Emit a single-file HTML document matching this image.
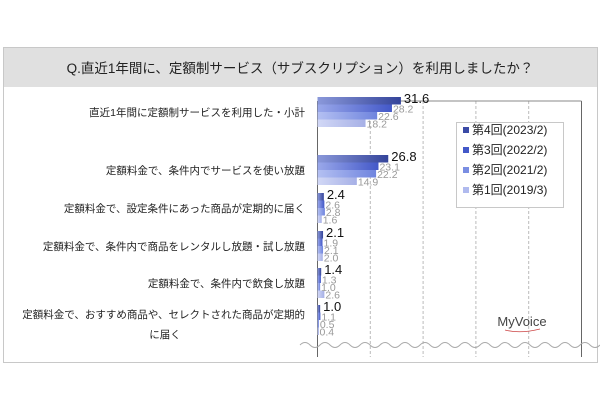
<!DOCTYPE html>
<html><head><meta charset="utf-8">
<style>
body{margin:0;background:#fff;width:600px;height:400px;overflow:hidden;font-family:"Liberation Sans","Noto Sans CJK JP",sans-serif;}
svg text{font-family:"Liberation Sans","Noto Sans CJK JP",sans-serif;}
</style></head>
<body>
<svg id="chart" width="600" height="400" viewBox="0 0 600 400" xmlns="http://www.w3.org/2000/svg">
<defs>
<linearGradient id="g0" x1="0" x2="1"><stop offset="0" stop-color="#8a98da"/><stop offset="1" stop-color="#34449a"/></linearGradient>
<linearGradient id="g1" x1="0" x2="1"><stop offset="0" stop-color="#9aa8ea"/><stop offset="1" stop-color="#4358c8"/></linearGradient>
<linearGradient id="g2" x1="0" x2="1"><stop offset="0" stop-color="#b4c0f2"/><stop offset="1" stop-color="#6f84de"/></linearGradient>
<linearGradient id="g3" x1="0" x2="1"><stop offset="0" stop-color="#d2d8f6"/><stop offset="1" stop-color="#a6b0e6"/></linearGradient>
</defs>
<rect x="3.5" y="47.5" width="594" height="315" fill="#fff" stroke="#c8c8c8"/>
<rect x="4" y="48" width="593" height="39" fill="#e0e0e0"/>
<text x="300" y="73" font-size="13.5" text-anchor="middle" fill="#222">Q.直近1年間に、定額制サービス（サブスクリプション）を利用しましたか？</text>
<g id="grid"></g>
<g id="bars"></g>
<g id="labels"></g>
<path d="" id="wave" fill="none" stroke="#aaa" stroke-width="1"/>
<g>
<rect x="456.5" y="122.5" width="107" height="85" fill="#fff" stroke="#c8c8c8"/>
<g id="legend"></g>
</g>
<text x="522" y="326" font-size="13" text-anchor="middle" fill="#444" font-family="Liberation Serif,serif">MyVoice</text>
<path d="M505 330 Q520 334 540 329" stroke="#c44" stroke-width="0.8" fill="none"/>
</svg>
<script>
const categories=["直近1年間に定額制サービスを利用した・小計","定額料金で、条件内でサービスを使い放題","定額料金で、設定条件にあった商品が定期的に届く","定額料金で、条件内で商品をレンタルし放題・試し放題","定額料金で、条件内で飲食し放題","定額料金で、おすすめ商品や、セレクトされた商品が定期的|に届く"];
const series=["第4回(2023/2)","第3回(2022/2)","第2回(2021/2)","第1回(2019/3)"];
const s4=[31.6,26.8,2.4,2.1,1.4,1.0];
const s3=[28.2,23.1,2.6,1.9,1.3,1.1];
const s2=[22.6,22.2,2.8,2.1,1.0,0.5];
const s1=[18.2,14.9,1.6,2.0,2.6,0.4];
const ticks=[0,20,40,60,80,100];
const NS="http://www.w3.org/2000/svg";
const x0=317.5,x1=581.5;
const xs=v=>x0+(x1-x0)*v/100;
const groupTop=[97,155,193,231,268,305];
const barH=7.5;
function mk(tag,attrs,parent){const e=document.createElementNS(NS,tag);for(const k in attrs)e.setAttribute(k,attrs[k]);parent.appendChild(e);return e;}
const grid=document.getElementById('grid');
ticks.forEach((t,i)=>{
 const l=mk('line',{x1:xs(t),x2:xs(t),y1:101,y2:357,stroke:(i==0||i==ticks.length-1)?'#666':'#bbb','stroke-dasharray':(i==0||i==ticks.length-1)?'':'3,2'},grid);
 
 
});
const tl=mk('line',{x1:x0,x2:x1,y1:101,y2:101,stroke:'#888'},grid);


let d="M300 345";
for(let x=300;x<598;x+=20){d+=` Q${x+5} 340 ${x+10} 345 Q${x+15} 350 ${x+20} 345`;}
document.getElementById('wave').setAttribute('d',d);
const bars=document.getElementById('bars'),labels=document.getElementById('labels');
const all=[s4,s3,s2,s1];
categories.forEach((c,i)=>{
 const top=groupTop[i];
 const parts=c.split('|');
 const cy=top+15;
 parts.forEach((p,j)=>{
  const t=mk('text',{x:parts.length>1?(j==0?305:165):305,y:(parts.length>1?cy-2+j*20:cy+4),'font-size':'10.5','text-anchor':parts.length>1&&j==1?'middle':'end',fill:'#222'},labels);
  t.textContent=p;
  
  
 });
 all.forEach((s,k)=>{
  const y=top+k*barH;
  const r=mk('rect',{x:x0,y:y,width:Math.max(xs(s[i])-x0,1.5),height:barH,fill:`url(#g${k})`},bars);
  
  
  const t=mk('text',{x:xs(s[i])+(k==0?3:1),y:k==0?y+6:y+8,'font-size':k==0?'13':'10.5',fill:k==0?'#111':'#999'},labels);
  t.textContent=s[i].toFixed(1);
  
  
 });
});
const lg=document.getElementById('legend');
const lc=['#3a4aa6','#4358c8','#7a8ee2','#b0baee'];
series.forEach((s,k)=>{
 const y=134+k*20;
 const r=mk('rect',{x:463,y:y-7,width:6,height:6,fill:lc[k]},lg);
 
 
 const t=mk('text',{x:472,y:y,'font-size':'12',fill:'#222'},lg);
 t.textContent=s;
 
 
});
</script>
</body></html>
